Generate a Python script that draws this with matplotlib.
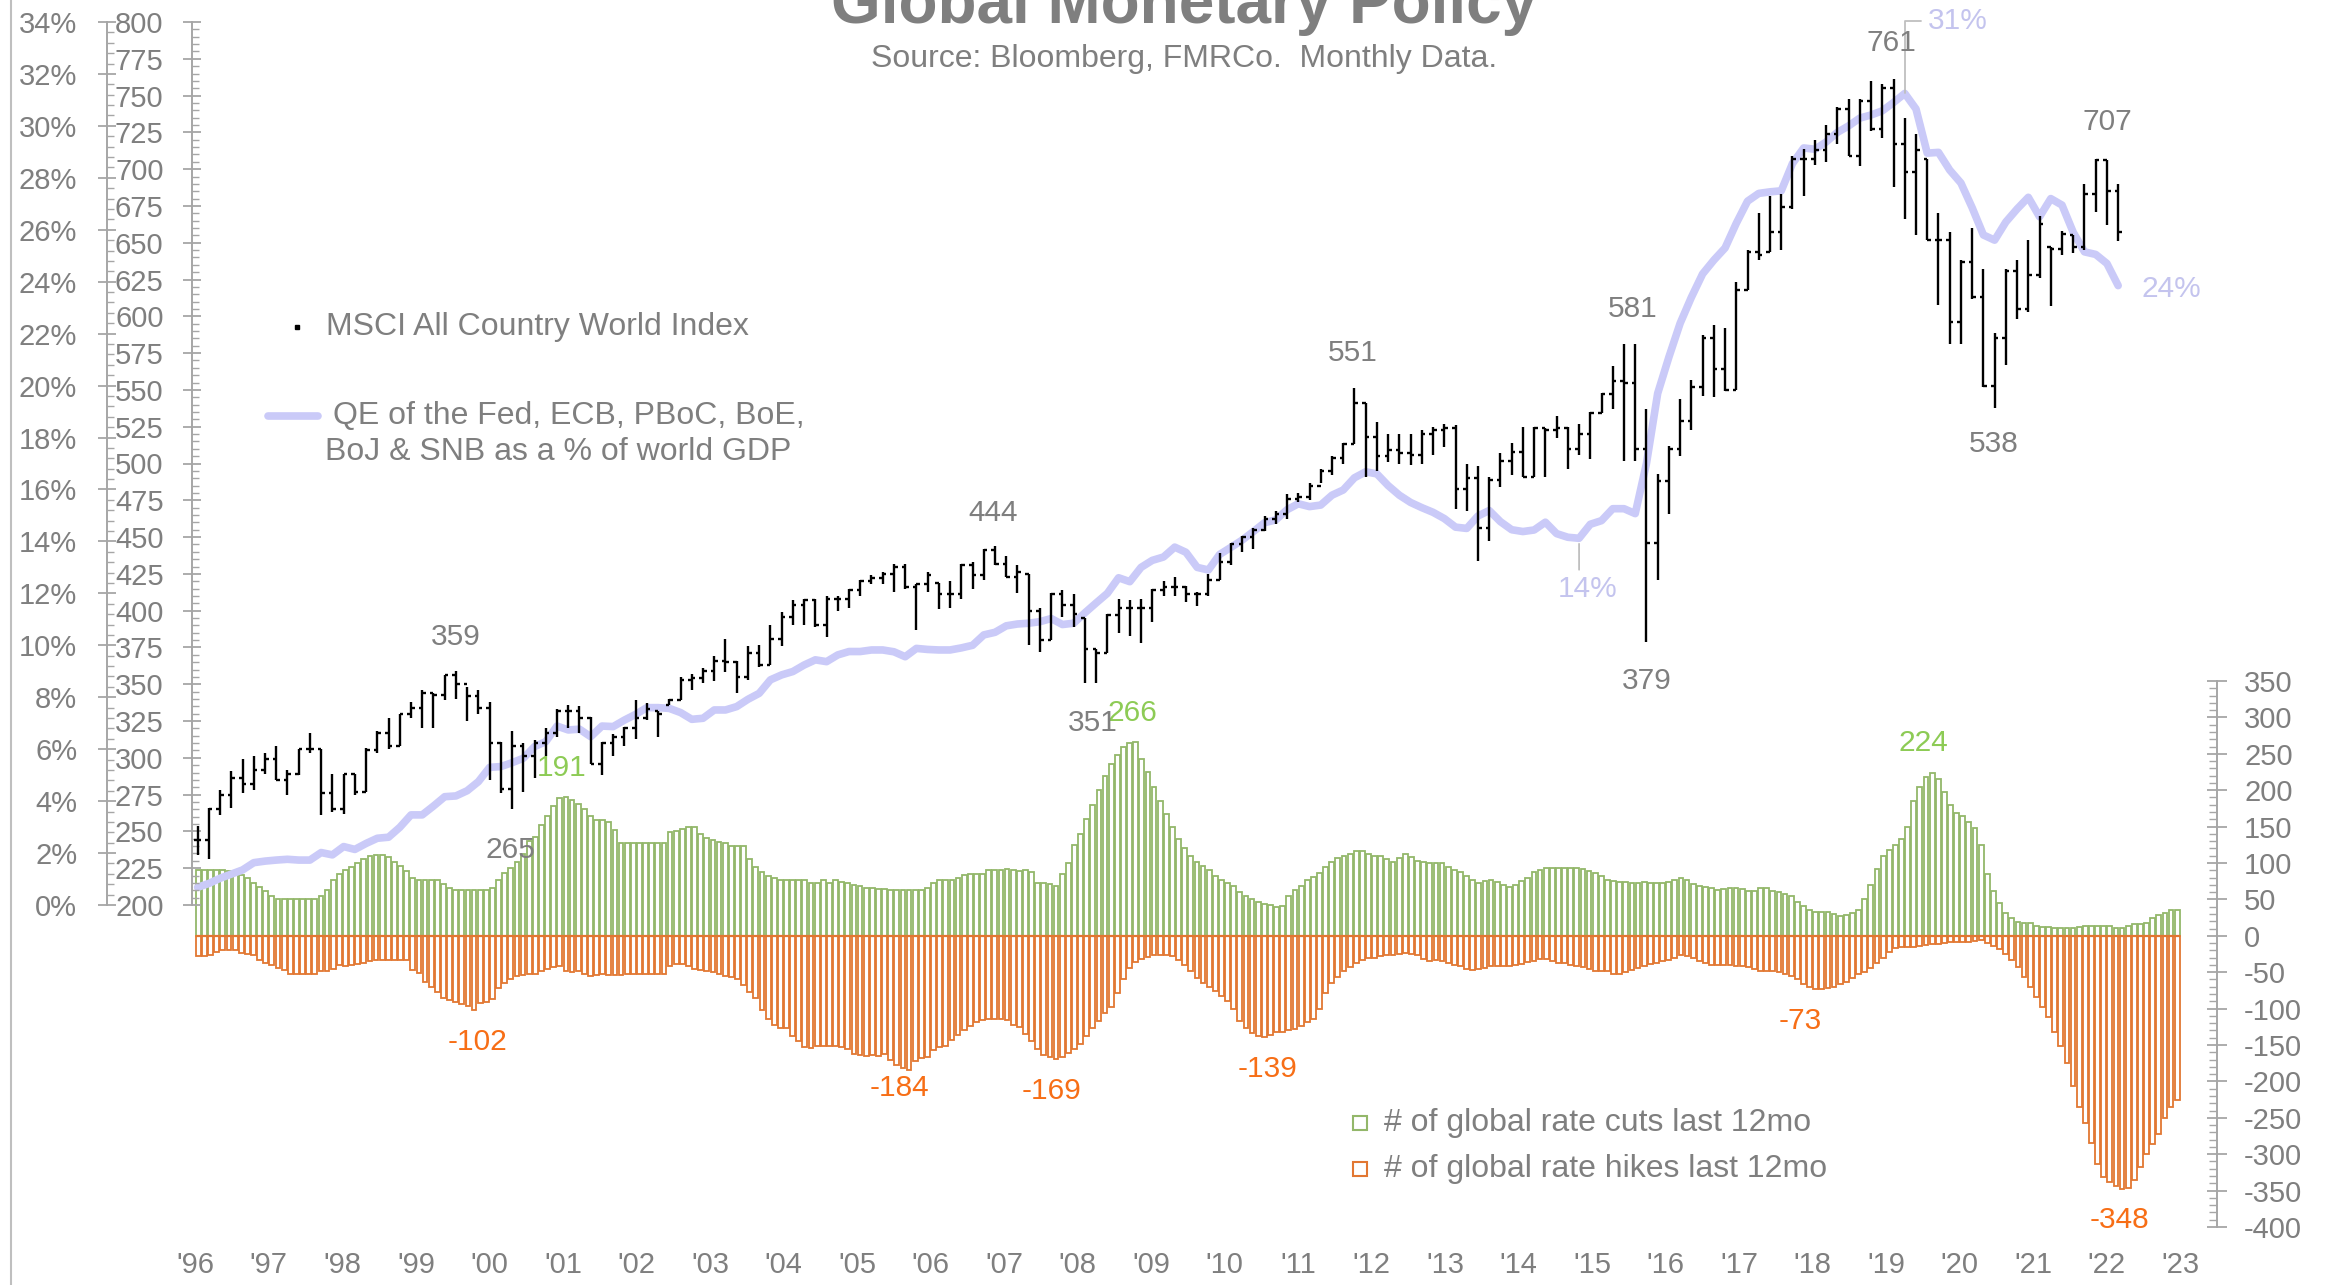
import matplotlib.pyplot as plt
import numpy as np
from matplotlib.lines import Line2D
from matplotlib.ticker import MultipleLocator, FuncFormatter

plt.rcParams['font.family'] = ['Liberation Sans', 'DejaVu Sans']
plt.rcParams['axes.unicode_minus'] = False

GRAY = '#7F7F7F'
AXIS = '#A6A6A6'
GREEN = '#93B76A'
ORANGE = '#E27732'
GREEN_TXT = '#8DCB55'
ORANGE_TXT = '#F76E16'
LAV = '#CACAF8'
LAV_TXT = '#C4C4EE'

W, H = 2338, 1285

start_year = 1996
end_year = 2023

# global rate cuts / hikes over last 12 months, monthly from Jan 1996
rate_cuts = [
    90, 90, 90, 90, 90, 89, 88, 83, 79, 72, 67, 61,            # 1996
    54, 50, 50, 50, 50, 50, 50, 50, 55, 63, 76, 85,            # 1997
    91, 95, 100, 106, 109, 111, 111, 108, 102, 96, 89, 80,     # 1998
    76, 76, 76, 76, 71, 65, 63, 63, 63, 63, 63, 63,            # 1999
    65, 76, 86, 93, 102, 112, 130, 136, 152, 165, 178, 189,    # 2000
    191, 187, 181, 174, 164, 159, 159, 157, 146, 128, 128, 128,  # 2001
    128, 128, 128, 128, 128, 143, 144, 147, 150, 150, 140, 134,  # 2002
    131, 129, 127, 124, 124, 124, 105, 94, 87, 82, 79, 77,     # 2003
    77, 77, 77, 76, 72, 73, 76, 73, 76, 74, 72, 70,            # 2004
    68, 66, 65, 64, 64, 63, 63, 63, 63, 63, 63, 66,            # 2005
    73, 76, 76, 77, 79, 83, 85, 85, 85, 91, 91, 91,            # 2006
    92, 91, 89, 91, 88, 72, 72, 71, 69, 85, 100, 125,          # 2007
    140, 160, 180, 200, 220, 236, 248, 259, 265, 266, 243, 225,  # 2008
    205, 185, 167, 150, 133, 120, 110, 101, 96, 90, 82, 76,    # 2009
    72, 68, 60, 55, 50, 46, 43, 42, 40, 41, 55, 63,            # 2010
    68, 76, 81, 86, 94, 101, 107, 110, 113, 116, 116, 112,     # 2011
    110, 109, 106, 102, 107, 112, 108, 103, 102, 100, 100, 100,  # 2012
    95, 90, 88, 82, 76, 73, 75, 76, 74, 70, 67, 70,            # 2013
    75, 80, 87, 91, 93, 93, 93, 93, 93, 93, 92, 89,            # 2014
    86, 82, 77, 75, 74, 74, 73, 72, 74, 72, 73, 73,            # 2015
    74, 76, 79, 76, 71, 69, 67, 65, 63, 64, 65, 65,            # 2016
    64, 61, 61, 65, 66, 62, 60, 58, 54, 47, 41, 36,            # 2017
    33, 33, 33, 30, 27, 28, 32, 36, 50, 70, 92, 110,           # 2018
    118, 125, 133, 150, 185, 205, 218, 224, 215, 198, 180, 168,  # 2019
    164, 157, 148, 125, 85, 62, 45, 32, 25, 19, 18, 17,        # 2020
    14, 12, 12, 11, 11, 11, 11, 12, 13, 13, 13, 13,            # 2021
    13, 11, 11, 13, 16, 16, 18, 25, 28, 31, 35, 35,            # 2022
]

rate_hikes = [
    -28, -28, -27, -22, -19, -19, -20, -24, -25, -27, -33, -38,          # 1996
    -40, -44, -47, -52, -52, -52, -52, -52, -49, -48, -45, -40,          # 1997
    -41, -40, -39, -37, -34, -33, -33, -33, -33, -33, -33, -47,          # 1998
    -51, -64, -70, -77, -86, -88, -91, -94, -96, -102, -92, -91,         # 1999
    -87, -72, -65, -60, -55, -54, -53, -52, -48, -46, -43, -42,          # 2000
    -49, -50, -49, -53, -55, -54, -53, -54, -54, -54, -53, -53,          # 2001
    -53, -53, -53, -53, -53, -41, -39, -39, -42, -46, -47, -49,          # 2002
    -50, -53, -55, -57, -60, -67, -77, -85, -102, -114, -122, -126,      # 2003
    -127, -137, -144, -153, -154, -151, -151, -151, -151, -153, -156, -163,  # 2004
    -164, -165, -164, -165, -163, -170, -178, -182, -184, -172, -168, -166,  # 2005
    -157, -153, -151, -143, -136, -130, -124, -119, -116, -114, -114, -114,  # 2006
    -115, -122, -125, -135, -145, -155, -164, -167, -169, -166, -161, -156,  # 2007
    -148, -137, -127, -117, -106, -98, -78, -60, -44, -36, -32, -29,     # 2008
    -27, -27, -27, -28, -33, -40, -49, -58, -65, -71, -76, -83,          # 2009
    -90, -101, -117, -127, -134, -138, -139, -136, -132, -132, -130, -128,  # 2010
    -124, -118, -114, -100, -78, -65, -56, -48, -43, -38, -33, -31,      # 2011
    -30, -28, -27, -26, -25, -24, -25, -27, -32, -34, -33, -35,          # 2012
    -37, -40, -41, -46, -47, -46, -44, -42, -41, -41, -42, -40,          # 2013
    -39, -36, -34, -32, -32, -35, -37, -38, -40, -41, -43, -46,          # 2014
    -48, -48, -48, -52, -52, -50, -47, -44, -41, -39, -37, -34,          # 2015
    -33, -30, -27, -28, -31, -34, -38, -40, -40, -40, -40, -41,          # 2016
    -41, -43, -46, -48, -48, -48, -50, -52, -55, -60, -66, -70,          # 2017
    -73, -73, -72, -70, -66, -64, -58, -53, -50, -44, -37, -30,          # 2018
    -22, -17, -16, -16, -15, -14, -12, -11, -11, -10, -9, -9,            # 2019
    -9, -8, -7, -6, -10, -14, -18, -25, -33, -43, -56, -70,              # 2020
    -84, -98, -111, -132, -151, -175, -206, -235, -257, -284, -314, -331,  # 2021
    -338, -343, -348, -346, -335, -318, -300, -286, -272, -250, -235, -225,  # 2022
]

# MSCI All Country World Index bars (open / high / low / close)
msci_open = [
    244, 244, 265, 275, 286, 282, 292, 299, 285, 289, 306, 306, 276, 265, 289, 277, 305, 317, 308, 330,
    334, 344, 343, 356, 350, 342, 334, 310, 279, 308, 301, 310, 317, 332, 332, 327, 296, 310, 314, 320,
    327, 332, 336, 339, 353, 354, 359, 366, 365, 355, 371, 363, 381, 396, 404, 407, 390, 408, 408, 414,
    420, 422, 425, 430, 416, 418, 419, 411, 411, 431, 424, 441, 432, 423, 425, 400, 380, 411, 404, 395,
    374, 371, 397, 402, 402, 402, 414, 416, 416, 411, 411, 421, 433, 445, 450, 455, 462, 466, 476, 477,
    485, 495, 504, 513, 541, 518, 505, 509, 507, 506, 520, 523, 524, 483, 490, 456, 489, 502, 508, 491,
    524, 523, 524, 510, 520, 534, 547, 556, 555, 510, 446, 488, 510, 529, 552, 585, 564, 550, 618, 644,
    644, 657, 674, 707, 707, 713, 724, 741, 709, 746, 727, 755, 717, 698, 707, 652, 652, 596, 637, 613,
    553, 585, 631, 605, 628, 647, 646, 655, 647, 683, 706, 685,
]
msci_high = [
    254, 266, 278, 291, 299, 301, 303, 308, 292, 306, 317, 306, 289, 289, 289, 307, 318, 327, 330, 338,
    346, 344, 356, 359, 348, 346, 338, 311, 318, 310, 312, 320, 333, 336, 335, 328, 311, 316, 321, 339,
    337, 332, 340, 355, 357, 361, 369, 381, 366, 376, 377, 390, 399, 407, 408, 408, 410, 410, 415, 421,
    424, 426, 432, 432, 418, 426, 419, 420, 432, 433, 442, 444, 437, 431, 425, 402, 412, 414, 411, 395,
    374, 398, 408, 407, 408, 415, 420, 423, 417, 413, 425, 439, 446, 451, 456, 464, 468, 479, 480, 487,
    496, 505, 514, 551, 541, 528, 520, 520, 520, 523, 525, 527, 526, 500, 498, 491, 507, 514, 525, 525,
    524, 532, 525, 527, 535, 548, 566, 581, 581, 537, 493, 512, 544, 557, 587, 594, 592, 623, 645, 670,
    682, 683, 709, 714, 720, 730, 742, 748, 748, 760, 758, 761, 735, 724, 707, 670, 657, 638, 660, 632,
    589, 632, 638, 652, 668, 647, 658, 655, 690, 707, 706, 690,
]
msci_low = [
    234, 231, 261, 266, 276, 278, 289, 285, 275, 288, 303, 261, 263, 262, 275, 277, 303, 306, 308, 327,
    320, 320, 339, 340, 325, 330, 285, 276, 265, 277, 286, 301, 314, 320, 317, 296, 288, 301, 308, 313,
    326, 314, 336, 339, 346, 351, 352, 358, 344, 353, 362, 363, 376, 390, 390, 389, 382, 400, 402, 410,
    418, 418, 413, 415, 387, 413, 401, 402, 408, 415, 421, 431, 423, 412, 377, 372, 380, 396, 389, 351,
    351, 371, 385, 383, 378, 392, 410, 410, 406, 403, 410, 421, 431, 440, 442, 454, 459, 462, 474, 475,
    487, 492, 500, 513, 491, 495, 501, 500, 499, 500, 506, 511, 469, 468, 434, 447, 484, 492, 491, 491,
    491, 517, 496, 506, 503, 534, 537, 502, 502, 379, 421, 466, 505, 523, 546, 545, 549, 550, 618, 638,
    644, 645, 673, 682, 703, 705, 717, 709, 702, 726, 721, 688, 666, 655, 652, 608, 581, 581, 612, 552,
    538, 567, 598, 603, 626, 607, 642, 643, 645, 671, 662, 651,
]
msci_close = [
    244, 265, 275, 286, 282, 292, 299, 285, 289, 306, 306, 276, 265, 289, 277, 305, 317, 308, 330, 334,
    344, 343, 356, 350, 342, 334, 310, 279, 308, 301, 310, 317, 332, 332, 327, 296, 310, 314, 320, 327,
    333, 330, 339, 353, 354, 359, 366, 365, 355, 371, 363, 381, 396, 404, 407, 390, 408, 408, 414, 420,
    422, 425, 430, 416, 418, 424, 411, 411, 431, 424, 441, 432, 423, 426, 400, 380, 411, 404, 398, 374,
    371, 397, 402, 402, 402, 414, 416, 416, 411, 411, 421, 433, 445, 450, 455, 462, 466, 476, 477, 485,
    495, 504, 513, 541, 518, 505, 509, 507, 506, 520, 523, 524, 483, 490, 456, 489, 502, 508, 491, 524,
    523, 524, 510, 520, 534, 547, 556, 555, 510, 446, 488, 510, 529, 552, 585, 564, 550, 618, 644, 642,
    657, 674, 707, 707, 713, 724, 741, 709, 746, 727, 755, 717, 698, 713, 652, 652, 596, 637, 613, 553,
    585, 631, 605, 628, 663, 646, 656, 647, 683, 706, 685, 657,
]

# QE of the Fed, ECB, PBoC, BoE, BoJ & SNB as % of world GDP (same periods as the MSCI bars)
qe_pct = [
    0.68, 0.83, 1.03, 1.19, 1.35, 1.63, 1.69, 1.73, 1.76, 1.73,
    1.73, 2.02, 1.93, 2.25, 2.14, 2.37, 2.57, 2.61, 2.99, 3.47,
    3.47, 3.81, 4.17, 4.20, 4.40, 4.75, 5.30, 5.33, 5.48, 5.65,
    6.10, 6.29, 6.89, 6.74, 6.77, 6.48, 6.89, 6.87, 7.12, 7.34,
    7.60, 7.60, 7.57, 7.41, 7.15, 7.19, 7.51, 7.51, 7.64, 7.92,
    8.15, 8.67, 8.86, 8.99, 9.24, 9.44, 9.37, 9.63, 9.76, 9.76,
    9.82, 9.82, 9.75, 9.56, 9.88, 9.84, 9.82, 9.82, 9.90, 10.0,
    10.4, 10.5, 10.75, 10.82, 10.85, 10.91, 11.03, 10.8, 10.85, 11.25,
    11.63, 12.0, 12.6, 12.45, 13.0, 13.27, 13.4, 13.78, 13.58, 13.0,
    12.9, 13.5, 13.77, 14.05, 14.38, 14.72, 14.83, 15.22, 15.45, 15.34,
    15.4, 15.78, 15.98, 16.45, 16.68, 16.6, 16.15, 15.78, 15.5, 15.3,
    15.12, 14.88, 14.55, 14.5, 14.98, 15.19, 14.76, 14.45, 14.38, 14.44,
    14.74, 14.3, 14.16, 14.12, 14.66, 14.8, 15.26, 15.26, 15.07, 17.0,
    19.7, 21.1, 22.4, 23.4, 24.3, 24.83, 25.3, 26.25, 27.1, 27.4,
    27.46, 27.5, 28.55, 29.15, 29.1, 29.38, 29.75, 30.0, 30.3, 30.42,
    30.58, 30.9, 31.25, 30.65, 28.95, 28.98, 28.3, 27.8, 26.85, 25.8,
    25.6, 26.3, 26.8, 27.25, 26.5, 27.2, 26.95, 25.9, 25.15, 25.05,
    24.7, 23.85,
]

year_labels = ["'%02d" % (y % 100) for y in range(start_year, end_year + 1)]

# labelled extremes: (series, index) + label offset in pixels
msci_notes = [('high', 23, 0, 34), ('low', 28, -2, -41), ('high', 71, -2, 33), ('low', 79, 8, -40),
              ('high', 103, -2, 35), ('high', 127, 9, 35), ('low', 129, 0, -39), ('high', 151, -2, 36),
              ('low', 160, -1, -36), ('high', 169, 12, 37)]
cut_notes = [(60, -4, 29), (153, -3, 29), (283, -9, 30)]
hike_notes = [(45, 3, -32), (116, -10, -18), (140, -5, -32), (174, 3, -32), (264, -15, -32), (314, -3, -31)]


def fx(px):
    return px / W


def fy(py):
    return 1 - py / H


fig = plt.figure(figsize=(W / 100, H / 100), dpi=100)

left, right = 192, 2217
ax_rate = fig.add_axes([fx(left), fy(1227), (right - left) / W, (1227 - 681) / H])
ax_msci = fig.add_axes([fx(left), fy(905), (right - left) / W, (905 - 22) / H])
ax_pct = ax_msci.twinx()
ax_rate.set_zorder(1)
ax_pct.set_zorder(2)
ax_msci.set_zorder(3)
for a in (ax_rate, ax_msci, ax_pct):
    a.patch.set_visible(False)
    for s in a.spines.values():
        s.set_visible(False)

# ---- rate cuts / hikes ----
month_x = start_year + (np.arange(len(rate_cuts)) + 0.5) / 12
bw = 0.78 / 12
ax_rate.bar(month_x, rate_cuts, width=bw, facecolor='white', edgecolor=GREEN, linewidth=1.3)
ax_rate.bar(month_x, rate_hikes, width=bw, facecolor='white', edgecolor=ORANGE, linewidth=1.3)
ax_rate.hlines(0, month_x[0] - bw / 2, month_x[-1] + bw / 2, color=ORANGE, linewidth=1.6)
ax_rate.set_xlim(1995.955, 2023.5)
ax_rate.set_ylim(-400, 350)
ax_rate.spines['right'].set_visible(True)
ax_rate.spines['right'].set_color(AXIS)
ax_rate.spines['right'].set_linewidth(1.4)
ax_rate.yaxis.tick_right()
ax_rate.yaxis.set_major_locator(MultipleLocator(50))
ax_rate.yaxis.set_minor_locator(MultipleLocator(10))
ax_rate.tick_params(axis='y', which='major', direction='inout', length=15, width=1.3, color=AXIS,
                    labelcolor=GRAY, labelsize=21, pad=12)
ax_rate.tick_params(axis='y', which='minor', direction='in', length=6, width=1, color=AXIS)
ax_rate.set_xticks(range(start_year, end_year + 1))
ax_rate.set_xticklabels(year_labels)
ax_rate.tick_params(axis='x', length=0, labelcolor=GRAY, labelsize=21, pad=17)

for i, dx, dy in cut_notes:
    ax_rate.annotate(str(rate_cuts[i]), xy=(month_x[i], rate_cuts[i]), xytext=(dx, dy),
                     textcoords='offset pixels', ha='center', va='center', fontsize=21.5, color=GREEN_TXT)
for i, dx, dy in hike_notes:
    ax_rate.annotate(str(rate_hikes[i]), xy=(month_x[i], rate_hikes[i]), xytext=(dx, dy),
                     textcoords='offset pixels', ha='center', va='center', fontsize=21.5, color=ORANGE_TXT)

# ---- MSCI bars ----
idx = np.arange(len(msci_close))
tk = 0.32
ax_msci.vlines(idx, msci_low, msci_high, color='black', linewidth=1.7)
ax_msci.hlines(msci_open, idx - tk, idx, color='black', linewidth=1.7)
ax_msci.hlines(msci_close, idx, idx + tk, color='black', linewidth=1.7)
ax_msci.set_xlim(-0.5, 179.8)
ax_msci.set_ylim(200, 800)
ax_msci.set_xticks([])
ax_msci.spines['left'].set_visible(True)
ax_msci.spines['left'].set_color(AXIS)
ax_msci.spines['left'].set_linewidth(1.4)
ax_msci.yaxis.set_major_locator(MultipleLocator(25))
ax_msci.yaxis.set_minor_locator(MultipleLocator(5))
ax_msci.tick_params(axis='y', which='major', direction='inout', length=13, width=1.3, color=AXIS,
                    labelcolor=GRAY, labelsize=21, pad=14)
ax_msci.tick_params(axis='y', which='minor', direction='in', length=5, width=1, color=AXIS)

series = {'high': msci_high, 'low': msci_low}
for kind, i, dx, dy in msci_notes:
    v = series[kind][i]
    ax_msci.annotate(str(v), xy=(i, v), xytext=(dx, dy), textcoords='offset pixels',
                     ha='center', va='center', fontsize=21.5, color=GRAY)

# ---- QE line ----
qx = np.arange(len(qe_pct))
ax_pct.plot(qx, qe_pct, color=LAV, linewidth=5.5, solid_capstyle='round', solid_joinstyle='round')
ax_pct.set_ylim(0, 34)
ax_pct.yaxis.tick_left()
ax_pct.spines['left'].set_visible(True)
ax_pct.spines['left'].set_position(('axes', (107 - left) / (right - left)))
ax_pct.spines['left'].set_color(AXIS)
ax_pct.spines['left'].set_linewidth(1.4)
ax_pct.yaxis.set_major_locator(MultipleLocator(2))
ax_pct.yaxis.set_minor_locator(MultipleLocator(0.4))
ax_pct.yaxis.set_major_formatter(FuncFormatter(lambda v, p: '%d%%' % round(v)))
ax_pct.tick_params(axis='y', which='major', direction='inout', length=13, width=1.3, color=AXIS,
                   labelcolor=GRAY, labelsize=21, pad=15)
ax_pct.tick_params(axis='y', which='minor', direction='in', length=5, width=1, color=AXIS)

imax = int(np.argmax(qe_pct))
ax_pct.annotate('%d%%' % round(qe_pct[imax]), xy=(imax, qe_pct[imax]), xytext=(23, 72),
                textcoords='offset pixels', ha='left', va='center', fontsize=21.5, color=LAV_TXT,
                arrowprops=dict(arrowstyle='-', color='#BFBFBF', lw=1.3, relpos=(0, 0.5),
                                connectionstyle='angle,angleA=0,angleB=90,rad=0', shrinkA=3, shrinkB=0))
ilow = 123
ax_pct.annotate('%d%%' % round(qe_pct[ilow]), xy=(ilow, qe_pct[ilow]), xytext=(9, -51),
                textcoords='offset pixels', ha='center', va='center', fontsize=21.5, color=LAV_TXT,
                arrowprops=dict(arrowstyle='-', color='#BFBFBF', lw=1.3, relpos=(0.35, 1),
                                shrinkA=2, shrinkB=4))
ilast = len(qe_pct) - 1
ax_pct.annotate('%d%%' % round(qe_pct[ilast]), xy=(ilast, qe_pct[ilast]), xytext=(23, -3),
                textcoords='offset pixels', ha='left', va='center', fontsize=21.5, color=LAV_TXT)

# ---- titles ----
fig.text(fx(1184), fy(23), 'Global Monetary Policy', ha='center', va='baseline',
         fontsize=46, fontweight='bold', color=GRAY)
fig.text(fx(1184), fy(67), 'Source: Bloomberg, FMRCo.  Monthly Data.', ha='center', va='baseline',
         fontsize=23, color=GRAY)

# ---- legends ----
fig.add_artist(Line2D([fx(297)], [fy(327)], marker='s', markersize=2.5, color='black', linestyle='none'))
fig.text(fx(326), fy(327), 'MSCI All Country World Index', ha='left', va='center', fontsize=23, color=GRAY)
fig.add_artist(Line2D([fx(268), fx(318)], [fy(416), fy(416)], color=LAV, linewidth=5.5,
                      solid_capstyle='round'))
fig.text(fx(333), fy(416), 'QE of the Fed, ECB, PBoC, BoE,', ha='left', va='center', fontsize=23, color=GRAY)
fig.text(fx(325), fy(452), 'BoJ & SNB as a % of world GDP', ha='left', va='center', fontsize=23, color=GRAY)

fig.add_artist(Line2D([fx(1360)], [fy(1123)], marker='s', markersize=10, markerfacecolor='white',
                      markeredgecolor=GREEN, markeredgewidth=1.5, linestyle='none'))
fig.text(fx(1384), fy(1123), '# of global rate cuts last 12mo', ha='left', va='center', fontsize=23, color=GRAY)
fig.add_artist(Line2D([fx(1360)], [fy(1169)], marker='s', markersize=10, markerfacecolor='white',
                      markeredgecolor=ORANGE, markeredgewidth=1.5, linestyle='none'))
fig.text(fx(1384), fy(1169), '# of global rate hikes last 12mo', ha='left', va='center', fontsize=23, color=GRAY)

fig.add_artist(Line2D([fx(11), fx(11)], [0, 1], color='#BFBFBF', linewidth=1.5))

fig.savefig('out.png', dpi=100)
